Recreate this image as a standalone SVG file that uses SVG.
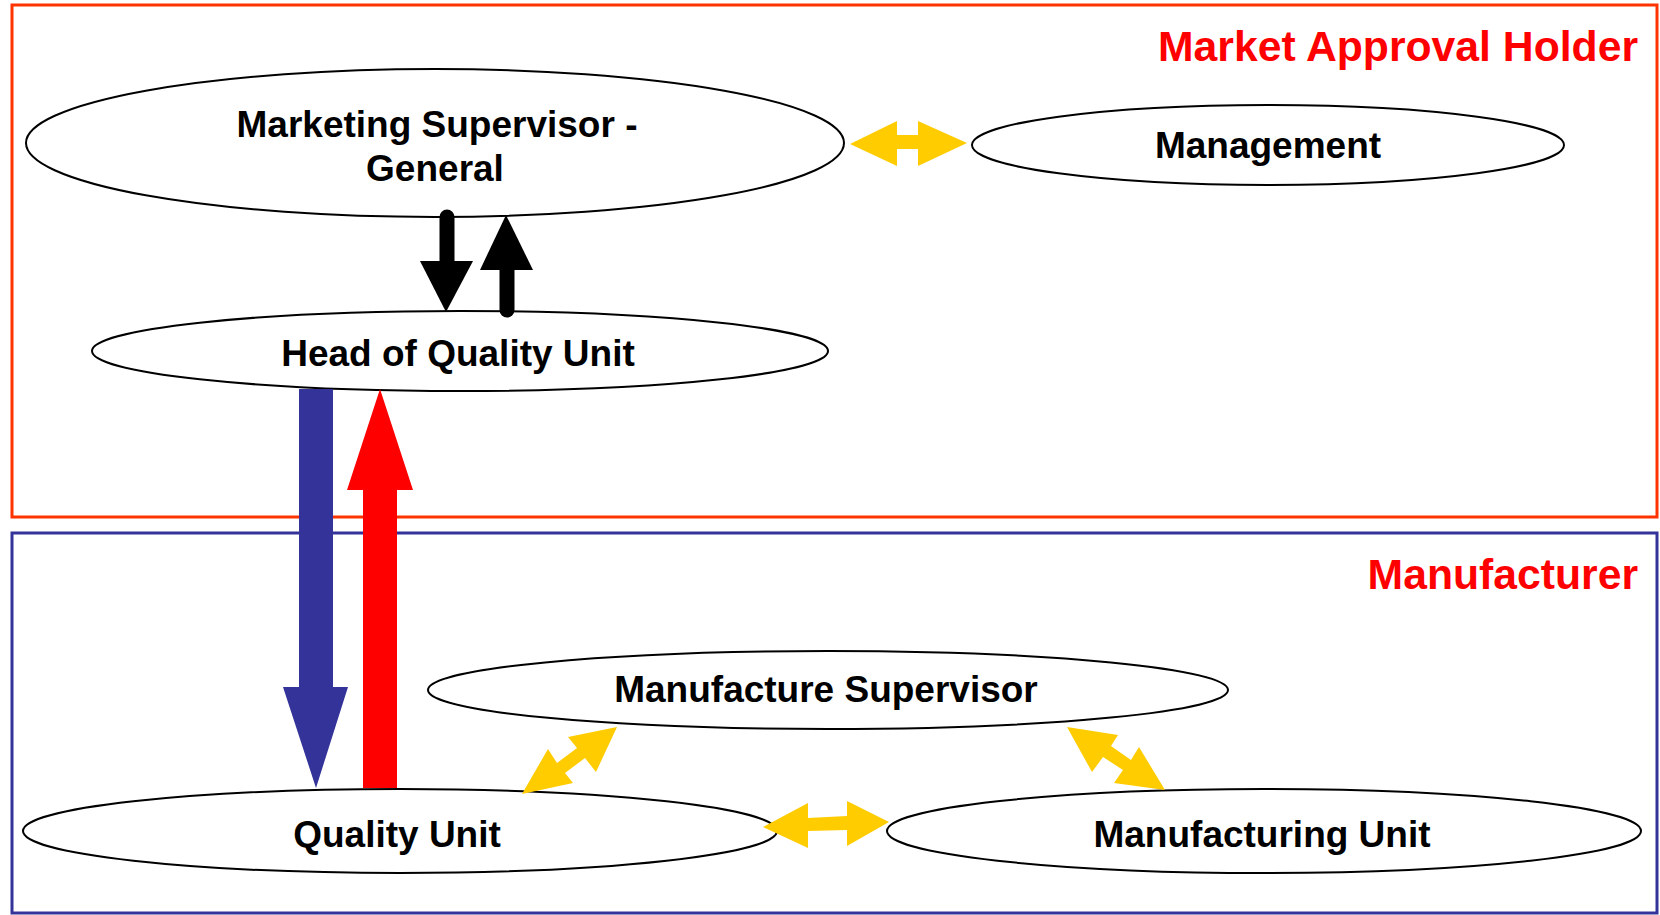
<svg xmlns="http://www.w3.org/2000/svg" width="1660" height="915" viewBox="0 0 1660 915">
<style>
.node ellipse{fill:#fff;stroke:#000;stroke-width:2}
.lbl{font-family:"Liberation Sans",Arial,sans-serif;font-weight:bold;font-size:37px;fill:#000;text-anchor:middle}
.title{font-family:"Liberation Sans",Arial,sans-serif;font-weight:bold;font-size:42.7px;fill:#FF0000;text-anchor:end}
.yel{fill:#FFCC00}
</style>
<rect width="1660" height="915" fill="#fff"/>
<g id="market-approval-holder">
<rect x="12" y="5" width="1645" height="512" fill="none" stroke="#FF3300" stroke-width="3"/>
<text class="title" x="1638" y="61">Market Approval Holder</text>
</g>
<g id="manufacturer">
<rect x="12" y="533" width="1645" height="380" fill="none" stroke="#333399" stroke-width="3"/>
<text class="title" x="1638" y="589">Manufacturer</text>
</g>
<g id="marketing-supervisor" class="node">
<ellipse cx="435" cy="143" rx="409" ry="74"/>
<text class="lbl" x="437" y="137">Marketing Supervisor -</text>
<text class="lbl" x="435" y="181">General</text>
</g>
<g id="management" class="node">
<ellipse cx="1268" cy="145" rx="296" ry="40"/>
<text class="lbl" x="1268" y="158">Management</text>
</g>
<g id="head-quality-unit" class="node">
<ellipse cx="460" cy="351" rx="368" ry="40"/>
<text class="lbl" x="458" y="366">Head of Quality Unit</text>
</g>
<g id="manufacture-supervisor" class="node">
<ellipse cx="828" cy="690" rx="400" ry="39"/>
<text class="lbl" x="826" y="702">Manufacture Supervisor</text>
</g>
<g id="quality-unit" class="node">
<ellipse cx="400" cy="831" rx="377" ry="42"/>
<text class="lbl" x="397" y="847">Quality Unit</text>
</g>
<g id="manufacturing-unit" class="node">
<ellipse cx="1264" cy="831" rx="377" ry="42"/>
<text class="lbl" x="1262" y="847">Manufacturing Unit</text>
</g>
<g id="connectors">
<line x1="447" y1="217" x2="447" y2="262" stroke="#000" stroke-width="15" stroke-linecap="round"/>
<polygon points="420,261 473,261 446,312" fill="#000"/>
<line x1="507" y1="310" x2="507" y2="268" stroke="#000" stroke-width="15" stroke-linecap="round"/>
<polygon points="480,270 533,270 506,215" fill="#000"/>
<polygon points="299,389 333,389 333,687 348,687 316,788 283,687 299,687" fill="#333399"/>
<polygon points="380,389 413,490 397,490 397,788 363,788 363,490 347,490" fill="#FF0000"/>
<polygon class="yel" points="850,144 897,121 897,135 918,135 918,121 967,143 918,166 918,149 897,149 897,166"/>
<polygon class="yel" points="763,827 808,803 808,818 847,816 847,801 889,822 847,846 847,830 808,831 808,848"/>
<polygon class="yel" points="522,794 548,749 557,763 577,748 568,737 617,727 596,772 585,758 565,773 573,783"/>
<polygon class="yel" points="1067,727 1118,735 1111,746 1131,760 1139,747 1165,790 1114,783 1123,770 1103,757 1092,772"/>
</g>
</svg>
